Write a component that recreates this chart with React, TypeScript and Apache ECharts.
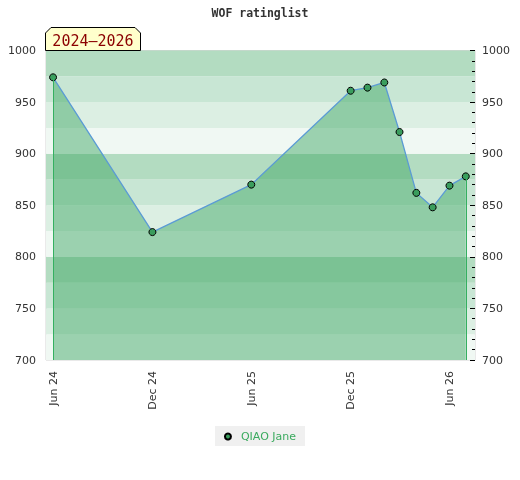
import React, { useEffect, useRef } from "react";
import * as echarts from "echarts";

const dates = [
  "2024-06-01", "2024-12-01", "2025-06-01", "2025-12-01", "2026-01-01",
  "2026-02-01", "2026-03-01", "2026-04-01", "2026-05-01", "2026-06-01", "2026-07-01",
];
const ratings = [974, 824, 870, 961, 964, 969, 921, 862, 848, 869, 878];
const tickDates = ["2024-06-01", "2024-12-01", "2025-06-01", "2025-12-01", "2026-06-01"];
const tickLabels = ["Jun 24", "Dec 24", "Jun 25", "Dec 25", "Jun 26"];
const axisStart = "2024-05-19";
const axisEnd = "2026-07-18";
const seriesName = "QIAO Jane";
const titleText = "WOF ratinglist";
const periodText = "2024\u20132026";
const yMin = 700;
const yMax = 1000;
const bandColors = ["#f0f8f3", "#dcefe3", "#c8e6d4", "#b3dcc1"];

function ts(s: string): number {
  const [y, m, d] = s.split("-").map(Number);
  return Date.UTC(y, m - 1, d);
}

export default function App() {
  const ref = useRef<HTMLDivElement>(null);
  useEffect(() => {
    if (!ref.current) return;
    const chart = echarts.init(ref.current, undefined, { renderer: "svg" });
    const data = dates.map((d, i) => [ts(d), ratings[i]]);
    const tickVals = tickDates.map(ts);
    const first = data[0];
    const last = data[data.length - 1];
    const labelFont = { fontFamily: "DejaVu Sans", fontSize: 11, color: "#333" };
    const plain = (v: number) => String(v);
    chart.setOption({
      animation: false,
      title: {
        text: titleText,
        left: "center",
        top: 7,
        padding: 0,
        textStyle: { fontFamily: "DejaVu Sans Mono", fontSize: 11.5, fontWeight: "bold", color: "#333" },
      },
      legend: {
        bottom: 34,
        left: "center",
        icon: "circle",
        itemWidth: 6,
        itemHeight: 6,
        backgroundColor: "#f0f0f0",
        padding: [5, 9, 4, 9],
        textStyle: { color: "#3aaa5e", fontFamily: "DejaVu Sans", fontSize: 11, padding: [0, 0, 0, 5] },
        data: [seriesName],
      },
      grid: {
        left: 46,
        right: 45,
        top: 50.5,
        bottom: 120,
        show: true,
        borderColor: "#d4d4d4",
        borderWidth: 1,
        backgroundColor: "transparent",
      },
      xAxis: {
        type: "value",
        min: ts(axisStart),
        max: ts(axisEnd),
        axisLine: { show: false },
        axisTick: { show: false },
        splitLine: { show: false },
        axisLabel: {
          ...labelFont,
          rotate: 90,
          margin: 11,
          customValues: tickVals,
          formatter: (v: number) => {
            const idx = tickVals.indexOf(v);
            return idx >= 0 ? tickLabels[idx] : "";
          },
        },
      },
      yAxis: [
        {
          type: "value",
          position: "left",
          min: yMin,
          max: yMax,
          interval: 50,
          axisLine: { show: false },
          axisTick: { show: false },
          splitLine: { show: false },
          axisLabel: { ...labelFont, margin: 10, formatter: plain },
        },
        {
          type: "value",
          position: "right",
          min: yMin,
          max: yMax,
          interval: 50,
          axisLine: { show: false },
          axisTick: { show: true, inside: true, length: 5, lineStyle: { color: "#000" } },
          minorTick: { show: true, splitNumber: 5, length: 3, lineStyle: { color: "#000" } },
          splitLine: { show: false },
          axisLabel: { ...labelFont, margin: 7, formatter: plain },
        },
        {
          type: "value",
          position: "left",
          min: yMin,
          max: yMax,
          interval: 25,
          z: 0,
          axisLine: { show: false },
          axisTick: { show: false },
          splitLine: { show: false },
          axisLabel: { show: false },
          splitArea: { show: true, areaStyle: { color: bandColors, opacity: 1 } },
        },
      ],
      series: [
        {
          name: seriesName,
          type: "line",
          yAxisIndex: 0,
          data,
          symbol: "circle",
          symbolSize: 7,
          itemStyle: { color: "#3a9d5d", borderColor: "#000", borderWidth: 1 },
          lineStyle: { color: "#5b9bd5", width: 1.3 },
          areaStyle: { color: "rgba(59,166,97,0.47)", opacity: 1, origin: "start" },
          markLine: {
            silent: true,
            symbol: "none",
            label: { show: false },
            lineStyle: { color: "#34b060", width: 1, type: "solid", opacity: 1 },
            data: [
              [{ coord: [first[0], first[1]] }, { coord: [first[0], yMin] }],
              [{ coord: [last[0], last[1]] }, { coord: [last[0], yMin] }],
            ],
          },
        },
      ],
      graphic: [
        {
          type: "polygon",
          z: 100,
          shape: {
            points: [[45.5, 50.5], [45.5, 33], [51, 27.5], [135, 27.5], [140.5, 33], [140.5, 50.5]],
          },
          style: { fill: "#ffffcc", stroke: "#000", lineWidth: 1 },
        },
        {
          type: "text",
          z: 101,
          x: 93,
          y: 40.5,
          style: {
            text: periodText,
            fill: "#8b0000",
            font: "15px 'DejaVu Sans Mono'",
            align: "center",
            verticalAlign: "middle",
          },
        },
      ],
    });
    return () => chart.dispose();
  }, []);
  return (
    <div
      ref={ref}
      style={{ position: "fixed", left: 0, top: 0, width: 520, height: 480 }}
    />
  );
}
